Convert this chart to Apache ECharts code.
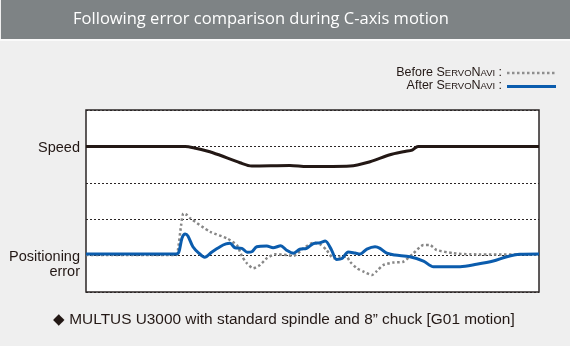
<!DOCTYPE html>
<html><head><meta charset="utf-8">
<script src="https://cdn.jsdelivr.net/npm/echarts@6/dist/echarts.min.js"></script>
<style>html,body{margin:0;padding:0;background:#efefef;}#c{width:570px;height:346px;}</style>
</head><body><div id="c"></div>
<script>
const title = 'Following error comparison during C-axis motion';
const footnote = '\u25C6 MULTUS U3000 with standard spindle and 8\u201D chuck [G01 motion]';
const yLabels = ['Speed', 'Positioning\nerror'];
const gridLevels = [0, 20, 40, 60, 80, 100];

const speed = [[0,80],[21.9,80],[24.1,79],[28,76.5],[34,71],[36.6,69.2],[45,69.5],[48.8,68.9],[58.3,69.2],[62.7,71.6],[67.1,75.4],[70.4,77.2],[72,78],[73.3,80],[100,80]];
const after = [[0,20.9],[19.9,20.9],[20.5,22],[21.2,29.7],[21.9,31.9],[22.5,30.8],[23.6,24.9],[24.9,21.4],[26.2,19.1],[27.8,22],[29.6,24.9],[30.9,26.4],[31.8,26.8],[32.9,24.3],[34.4,24],[35.6,21.8],[36.6,22.1],[37.7,24.9],[39.9,25.3],[41.3,24.3],[43,25.4],[44.2,23.1],[45.8,21.3],[47.2,23.5],[48.7,24],[50.2,26.6],[51.7,27.1],[52.8,28],[54.2,23.1],[55.3,17.9],[56.5,18.4],[57.9,22],[59.4,21.4],[60.5,20.9],[62,23.6],[63.8,24.9],[64.9,24],[66.4,21.3],[68.2,20.3],[71.5,19.4],[74.5,17],[76.7,13.9],[82.6,13.9],[86.2,15.2],[89.9,17],[92.9,19.4],[95.8,20.7],[100,20.9]];
const before = [[0,20.3],[19.9,20.3],[20.3,23.1],[21,36.8],[21.5,43.2],[22.3,42.3],[23,40.5],[27.4,33.1],[31.1,29.5],[33.3,25.8],[34.4,19.8],[35.5,15.8],[36.9,13],[38.4,14.8],[39.9,18.5],[41.7,20.7],[44.3,20.3],[45.8,19.8],[48,24],[50.2,27.1],[51.7,26.2],[53.1,23.1],[54.6,18.5],[56.1,19.4],[57.5,19.4],[58.3,16.6],[59.8,13],[61.4,11],[63.1,9.3],[64.2,11.5],[65.6,14.8],[67.8,16.2],[70,16.6],[72.3,21.3],[74.5,25.8],[75.9,25.8],[77.4,23.1],[81.1,21.3],[84.8,20.7],[100,20.6]];

const chart = echarts.init(document.getElementById('c'));
const labelFont = '"Liberation Sans", Arial, sans-serif';
const legendRich = {a: {fontSize: 12.5, fontFamily: labelFont, fill: '#231815'}, b: {fontSize: 9.5, fontFamily: labelFont, fill: '#231815'}};
chart.setOption({
  backgroundColor: '#efefef',
  animation: false,
  grid: {left: 86, top: 110, width: 453, height: 182, show: true, backgroundColor: '#ffffff', borderColor: '#2b2626', borderWidth: 1.5},
  xAxis: {type: 'value', min: 0, max: 100, show: false},
  yAxis: {type: 'value', min: 0, max: 100, interval: 20,
    axisLine: {show: false}, axisTick: {show: false},
    axisLabel: {show: true, fontFamily: labelFont, fontSize: 14.5, color: '#231815', margin: 6, lineHeight: 15.5,
      formatter: function (v) { if (v === 80) return yLabels[0]; if (v === 20) return yLabels[1]; return ''; },
      verticalAlign: 'top', padding: [-6.5, 0, 0, 0]},
    splitLine: {show: true, lineStyle: {color: '#2b2626', type: [2, 2], width: 1}}
  },
  graphic: [
    {type: 'rect', left: 1, top: 0, shape: {width: 569, height: 39}, style: {fill: '#7e8385'}},
    {type: 'rect', left: 0, top: 39, shape: {width: 570, height: 2}, style: {fill: '#fafafa'}},
    {type: 'text', x: 261, y: 19, style: {text: title, fill: '#ffffff', font: '16.5px "Open Sans", sans-serif', align: 'center', verticalAlign: 'middle'}},
    {type: 'text', x: 53, y: 320, style: {text: footnote, fill: '#231815', font: '15.4px "Liberation Sans", Arial, sans-serif', verticalAlign: 'middle'}},
    {type: 'text', x: 502, y: 73, style: {text: '{a|Before S}{b|ERVO}{a|N}{b|AVI} {a|:}', align: 'right', verticalAlign: 'middle', rich: legendRich}},
    {type: 'text', x: 502, y: 86, style: {text: '{a|After S}{b|ERVO}{a|N}{b|AVI} {a|:}', align: 'right', verticalAlign: 'middle', rich: legendRich}},
    {type: 'line', shape: {x1: 507, y1: 73, x2: 556, y2: 73}, style: {stroke: '#8e8e8e', lineWidth: 2.5, lineDash: [2.5, 2.5]}},
    {type: 'line', shape: {x1: 507, y1: 86.5, x2: 556, y2: 86.5}, style: {stroke: '#0b5cad', lineWidth: 3}}
  ],
  series: [
    {name: 'Speed', type: 'line', data: speed, showSymbol: false, smooth: 0.3, lineStyle: {color: '#231815', width: 3}, z: 3},
    {name: 'Before SERVONAVI', type: 'line', data: before, showSymbol: false, smooth: 0.2, lineStyle: {color: '#878787', width: 2.5, type: [2.5, 2.5]}, z: 4},
    {name: 'After SERVONAVI', type: 'line', data: after, showSymbol: false, smooth: 0.3, lineStyle: {color: '#0b5cad', width: 3}, z: 5}
  ]
});
</script></body></html>
